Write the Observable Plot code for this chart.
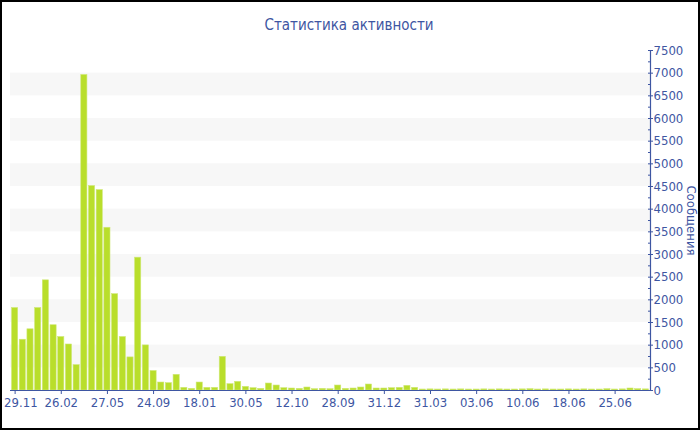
<!DOCTYPE html>
<html>
<head>
<meta charset="utf-8">
<script src="https://cdn.jsdelivr.net/npm/d3@7"></script>
<script src="https://cdn.jsdelivr.net/npm/@observablehq/plot@0.6"></script>
<style>
  html, body { margin: 0; padding: 0; background: #fff; }
  #chart { position: relative; width: 700px; height: 430px; overflow: hidden; font-family: "DejaVu Sans Condensed", "DejaVu Sans", sans-serif; }
  #title { position: absolute; left: 0; top: 16px; width: 698px; text-align: center; font-size: 15px; color: #3e56a2; z-index: 2; }
  #frame { position: absolute; left: 0; top: 0; width: 700px; height: 430px; box-sizing: border-box; border: 2px solid #000; pointer-events: none; z-index: 3; }
  #chart svg { position: absolute; left: 0; top: 0; }
</style>
</head>
<body>
<div id="chart">
  <div id="title">Статистика активности</div>
  <div id="frame"></div>
</div>
<script>
// Messages per period
const messages = [
  1820, 1120, 1350, 1820, 2430, 1440, 1180, 1015, 560, 6960,
  4510, 4420, 3590, 2125, 1180, 730, 2930, 995, 430, 176,
  162, 346, 59, 37, 176, 59, 59, 743, 140, 191,
  81, 51, 37, 154, 110, 51, 44, 37, 66, 29,
  37, 29, 110, 37, 44, 66, 132, 44, 44, 51,
  59, 103, 59, 22, 25, 22, 25, 22, 25, 22,
  22, 25, 22, 25, 22, 22, 25, 29, 22, 25,
  22, 22, 25, 22, 25, 22, 22, 29, 22, 25,
  44, 29, 25
];

// Date labels shown on every sixth period
const tickLabels = ["29.11", "26.02", "27.05", "24.09", "18.01", "30.05", "12.10",
                    "28.09", "31.12", "31.03", "03.06", "10.06", "18.06", "25.06"];
const tickEvery = 6;

// Y axis values
const yMajorTicks = d3.range(0, 7501, 500);
const yMinorTicks = d3.range(250, 7500, 500);
const bandStarts = d3.range(500, 7000, 1000);

const rows = messages.map((v, i) => ({i, v}));
const bands = bandStarts.map(s => ({lo: s, hi: s + 500}));
const labelOf = new Map(tickLabels.map((t, k) => [k * tickEvery, t]));
const tickIdx = [...labelOf.keys()];

const blue = "#3e56a2";

const plot = Plot.plot({
  width: 700,
  height: 430,
  marginTop: 50,
  marginBottom: 40,
  marginLeft: 10,
  marginRight: 50,
  style: {fontFamily: "DejaVu Sans Condensed, DejaVu Sans, sans-serif", fontSize: "12px", color: blue, background: "transparent"},
  x: {type: "band", domain: rows.map(d => d.i), paddingInner: 0.2, paddingOuter: 0.2, axis: null},
  y: {domain: [0, 7500], axis: null},
  marks: [
    Plot.rect(bands, {y1: "lo", y2: "hi", fill: "#f7f7f7"}),
    Plot.barY(rows, {x: "i", y: "v", fill: "#b9de2b", stroke: "#cfe878", strokeWidth: 0.6}),
    Plot.ruleY([0], {stroke: blue, strokeWidth: 1.2}),
    Plot.frame({anchor: "right", stroke: blue, strokeWidth: 1.2}),
    // tick marks for every labelled period, labels for all but the first
    Plot.axisX({
      anchor: "bottom",
      ticks: tickIdx,
      tickFormat: i => (i === tickIdx[0] ? "" : labelOf.get(i)),
      tickSize: 4,
      tickPadding: 3,
      stroke: blue,
      fill: blue,
      fontSize: 13,
      label: null
    }),
    // first label starts at the left edge so it stays inside the frame
    Plot.axisX({
      anchor: "bottom",
      ticks: tickIdx.slice(0, 1),
      tickFormat: i => labelOf.get(i),
      tickSize: 0,
      tickPadding: 7,
      textAnchor: "start",
      dx: -11,
      fill: blue,
      fontSize: 13,
      label: null
    }),
    Plot.axisY({anchor: "right", ticks: yMajorTicks, tickFormat: d3.format("d"), tickSize: 2, tickPadding: 1, stroke: blue, fill: blue, fontSize: 13, label: null}),
    Plot.axisY({anchor: "right", ticks: yMajorTicks, tickSize: -3, text: null, stroke: blue, label: null}),
    Plot.axisY({anchor: "right", ticks: yMinorTicks, tickSize: -3, text: null, stroke: blue, label: null}),
    Plot.text(["Сообщения"], {frameAnchor: "right", dx: 41, rotate: 90, fill: blue, fontSize: 13, textAnchor: "middle"})
  ]
});

document.getElementById("chart").insertBefore(plot, document.getElementById("title"));
</script>
</body>
</html>
